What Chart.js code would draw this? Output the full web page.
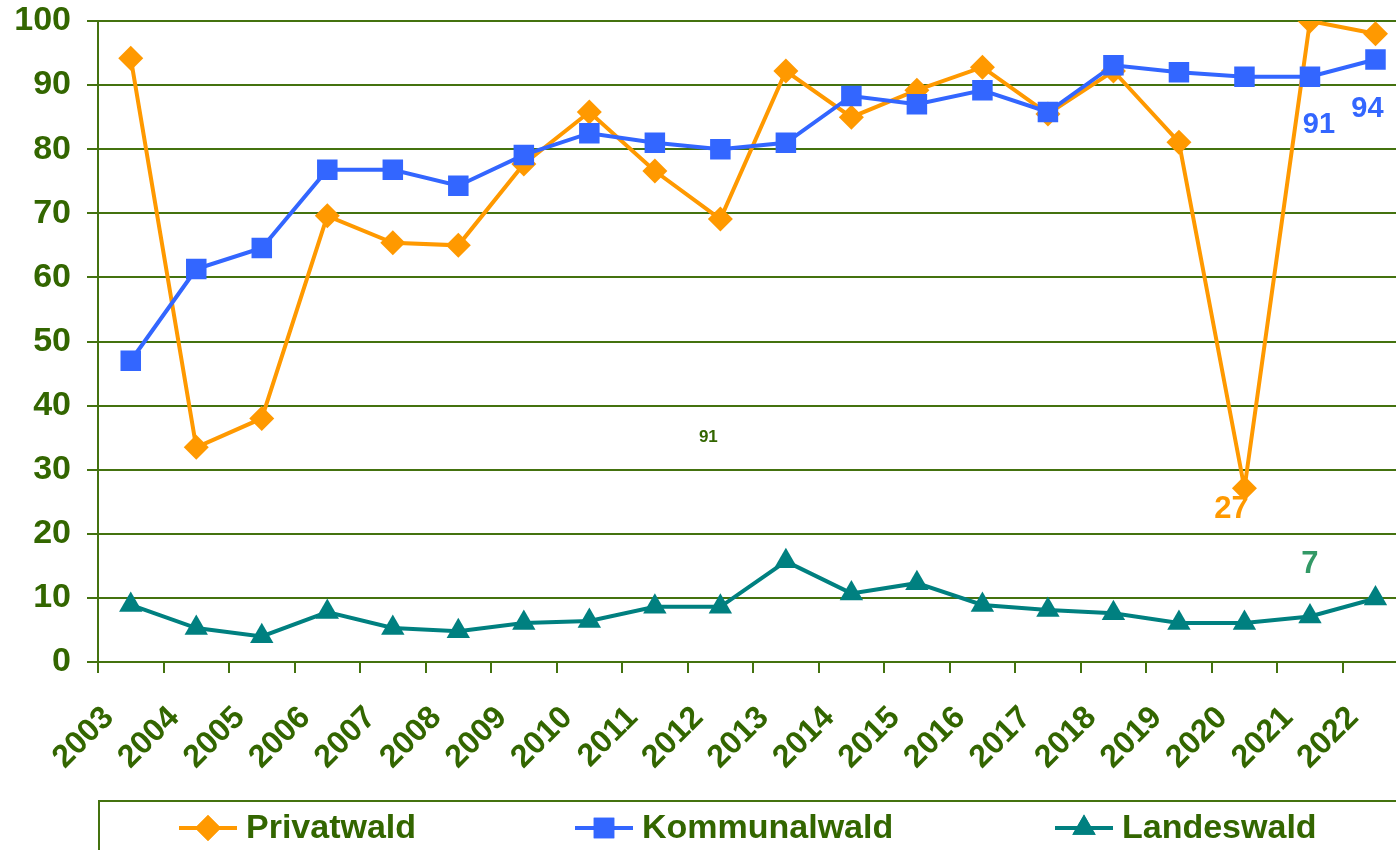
<!DOCTYPE html>
<html>
<head>
<meta charset="utf-8">
<script src="https://cdn.jsdelivr.net/npm/chart.js@4"></script>
<style>
  html, body { margin: 0; padding: 0; background: #fff; overflow: hidden; }
  #wrap { width: 1429px; height: 850px; }
</style>
</head>
<body>
<div id="wrap"><canvas id="myChart" width="1429" height="850"></canvas></div>
<script>
const years = ['2003', '2004', '2005', '2006', '2007', '2008', '2009', '2010', '2011', '2012',
  '2013', '2014', '2015', '2016', '2017', '2018', '2019', '2020', '2021', '2022'];
const privatwald = [94.2, 33.5, 38, 69.6, 65.4, 65, 77.7, 85.8, 76.6, 69.1,
  92.2, 85, 89.2, 92.8, 85.5, 92.2, 81.1, 27.1, 100, 98];
const kommunalwald = [47, 61.3, 64.6, 76.8, 76.8, 74.3, 79.1, 82.5, 81, 80,
  81, 88.3, 87, 89.2, 85.8, 93.1, 92, 91.3, 91.3, 94];
const landeswald = [8.9, 5.3, 4, 7.8, 5.3, 4.8, 6.1, 6.4, 8.6, 8.6,
  15.7, 10.7, 12.3, 8.9, 8.1, 7.6, 6.1, 6.1, 7.1, 9.9];
const yTicks = [0, 10, 20, 30, 40, 50, 60, 70, 80, 90, 100];

const green = '#336600';
const gridGreen = '#44720f';
const orange = '#ff9900';
const blue = '#3366ff';
const teal = '#008080';
const font = 'Liberation Sans, Arial, sans-serif';

// value labels the original shows next to some points
const valueLabels = [
  { ds: 0, idx: 17, text: '27', color: orange, size: 31, dx: -13, dy: 21 },
  { ds: 1, idx: 18, text: '91', color: blue, size: 29, dx: 9, dy: 48 },
  { ds: 1, idx: 19, text: '94', color: blue, size: 29, dx: -8, dy: 50 },
  { ds: 2, idx: 18, text: '7', color: '#339966', size: 31, dx: 0, dy: -52 },
];

const labelPlugin = {
  id: 'valueLabels',
  afterDatasetsDraw(chart) {
    const c = chart.ctx;
    c.save();
    c.textAlign = 'center';
    c.textBaseline = 'middle';
    valueLabels.forEach((l) => {
      const pt = chart.getDatasetMeta(l.ds).data[l.idx];
      c.fillStyle = l.color;
      c.font = 'bold ' + l.size + 'px ' + font;
      c.fillText(l.text, pt.x + l.dx, pt.y + l.dy);
    });
    // stray small label in the middle of the plot
    c.fillStyle = green;
    c.font = 'bold 17px ' + font;
    c.fillText('91', chart.scales.x.getPixelForValue(9) - 12, chart.scales.y.getPixelForValue(35));
    c.restore();
  },
};

const legendPlugin = {
  id: 'boxLegend',
  afterDraw(chart) {
    const c = chart.ctx;
    const items = [
      { text: 'Privatwald', color: orange, style: 'rectRot', r: 13, x: 179 },
      { text: 'Kommunalwald', color: blue, style: 'rect', r: 14.5, x: 575 },
      { text: 'Landeswald', color: teal, style: 'triangle', r: 13.5, x: 1055 },
    ];
    c.save();
    c.strokeStyle = gridGreen;
    c.lineWidth = 2;
    c.strokeRect(99, 801, 1340, 100);
    const y = 828;
    items.forEach((it) => {
      c.strokeStyle = it.color;
      c.lineWidth = 4;
      c.beginPath();
      c.moveTo(it.x, y);
      c.lineTo(it.x + 58, y);
      c.stroke();
      c.fillStyle = it.color;
      Chart.helpers.drawPoint(c, { pointStyle: it.style, radius: it.r, borderWidth: 0 }, it.x + 29, y);
      c.fill();
      c.fillStyle = green;
      c.font = 'bold 34px ' + font;
      c.textAlign = 'left';
      c.textBaseline = 'middle';
      c.fillText(it.text, it.x + 67, y + 1);
    });
    c.restore();
  },
};

const ctx = document.getElementById('myChart');
const myChart = new Chart(ctx, {
  type: 'line',
  data: {
    labels: years,
    datasets: [
      {
        label: 'Privatwald',
        data: privatwald,
        borderColor: orange,
        backgroundColor: orange,
        pointStyle: 'rectRot',
        pointRadius: 12.5,
        order: 2,
      },
      {
        label: 'Kommunalwald',
        data: kommunalwald,
        borderColor: blue,
        backgroundColor: blue,
        pointStyle: 'rect',
        pointRadius: 14.5,
        order: 1,
      },
      {
        label: 'Landeswald',
        data: landeswald,
        borderColor: teal,
        backgroundColor: teal,
        pointStyle: 'triangle',
        pointRadius: 13.5,
        order: 3,
      },
    ],
  },
  options: {
    responsive: false,
    animation: false,
    layout: {
      padding: { top: 21, left: 0, right: 2, bottom: 58 },
    },
    elements: {
      line: { borderWidth: 4, tension: 0 },
      point: { borderWidth: 0, hoverRadius: 12 },
    },
    scales: {
      x: {
        offset: true,
        afterFit: (s) => { s.height = 130; },
        grid: {
          offset: true,
          drawOnChartArea: false,
          drawTicks: true,
          tickLength: 11,
          color: gridGreen,
          lineWidth: 2,
        },
        border: { display: true, color: gridGreen, width: 2 },
        ticks: {
          color: green,
          font: { family: font, size: 32, weight: 'bold' },
          maxRotation: 45,
          minRotation: 45,
          labelOffset: -22,
          padding: 26,
          autoSkip: false,
        },
      },
      y: {
        min: 0,
        max: 100,
        afterFit: (s) => {
          s.width = 98;
          s.paddingTop = 0;
          s.paddingBottom = 0;
        },
        afterBuildTicks: (s) => { s.ticks = yTicks.map((v) => ({ value: v })); },
        grid: {
          color: gridGreen,
          lineWidth: 2,
          tickLength: 11,
        },
        border: { display: true, color: gridGreen, width: 2 },
        ticks: {
          color: green,
          font: { family: font, size: 34, weight: 'bold' },
          padding: 16,
        },
      },
    },
    plugins: {
      legend: { display: false },
      tooltip: { enabled: false },
    },
  },
  plugins: [labelPlugin, legendPlugin],
});
</script>
</body>
</html>
